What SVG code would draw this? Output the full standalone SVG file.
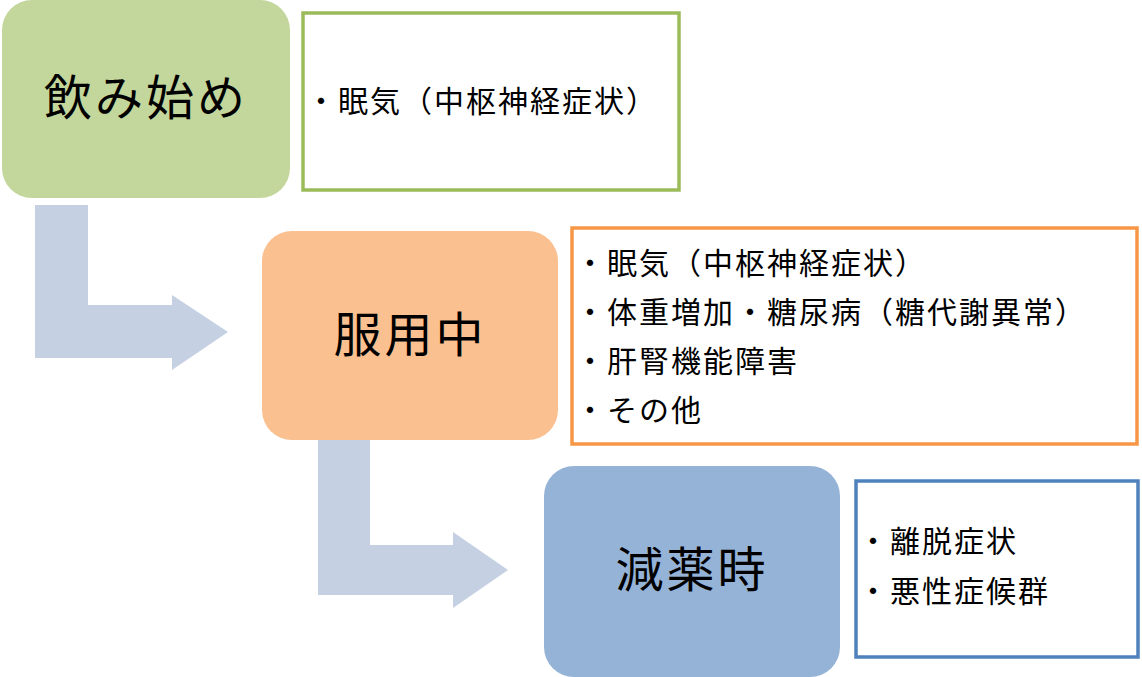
<svg xmlns="http://www.w3.org/2000/svg" width="1142" height="677" viewBox="0 0 1142 677">
<style>
text{font-family:"Noto Sans CJK JP","Noto Sans",sans-serif;fill:#000}
.big{font-size:48px;letter-spacing:3px;text-anchor:middle}
.sm{font-size:30px;letter-spacing:2px}
.det{fill:#fff;stroke-width:3.5}
.arr{fill:#c5d0e3}
</style>
<rect width="1142" height="677" fill="#fff"/>
<g id="connectors">
<polygon class="arr" points="35,205 88,205 88,305 172,305 172,295 228,332 172,370 172,358 35,358"/>
<polygon class="arr" points="318,440 370,440 370,545 453,545 453,532 508,570 453,608 453,595 318,595"/>
</g>
<g id="start">
<rect x="2" y="0" width="288" height="198" rx="30" fill="#c3d69b"/>
<text class="big" x="146" y="115">飲み始め</text>
</g>
<g id="start-detail">
<rect class="det" x="303" y="13" width="376" height="177" stroke="#9bbb59"/>
<text class="sm" x="306" y="112">・眠気（中枢神経症状）</text>
</g>
<g id="during">
<rect x="262" y="231" width="296" height="209" rx="30" fill="#fac090"/>
<text class="big" x="410" y="352">服用中</text>
</g>
<g id="during-detail">
<rect class="det" x="572" y="228" width="565" height="216" stroke="#f79646"/>
<text class="sm" x="575" y="274">・眠気（中枢神経症状）</text>
<text class="sm" x="575" y="323">・体重増加・糖尿病（糖代謝異常）</text>
<text class="sm" x="575" y="372">・肝腎機能障害</text>
<text class="sm" x="575" y="421">・その他</text>
</g>
<g id="taper">
<rect x="544" y="466" width="296" height="211" rx="30" fill="#95b3d7"/>
<text class="big" x="692" y="587">減薬時</text>
</g>
<g id="taper-detail">
<rect class="det" x="856" y="481" width="282" height="176" stroke="#4f81bd"/>
<text class="sm" x="858" y="552">・離脱症状</text>
<text class="sm" x="858" y="602">・悪性症候群</text>
</g>
</svg>
